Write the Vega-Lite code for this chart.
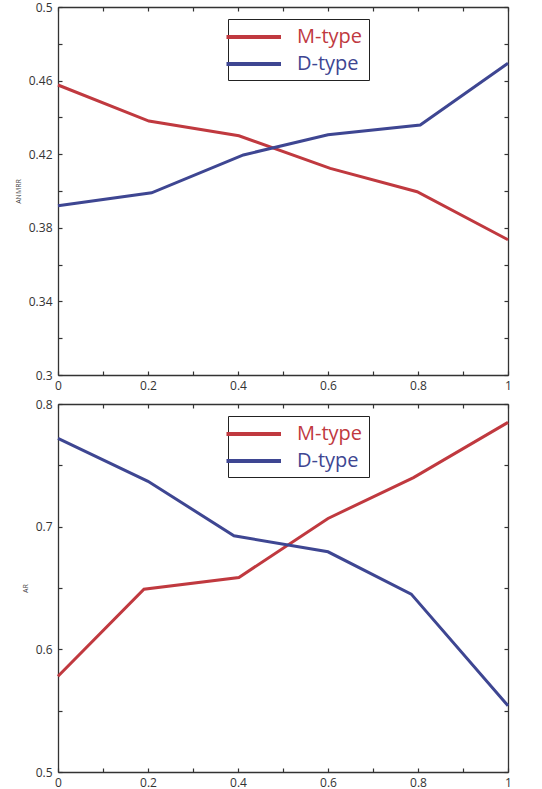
{
  "$schema": "https://vega.github.io/schema/vega-lite/v6.json",
  "padding": {"top": 1, "left": 14, "right": 0, "bottom": 0},
  "background": "white",
  "spacing": 7,
  "config": {
    "view": {"stroke": null},
    "font": "Open Sans",
    "axis": {
      "domainColor": "#333333",
      "domainWidth": 1.3,
      "tickColor": "#333333",
      "tickWidth": 1.2,
      "tickSize": -4,
      "labelColor": "#333333",
      "labelFontSize": 12,
      "labelFont": "Open Sans",
      "grid": false,
      "titleFont": "Open Sans",
      "titleFontWeight": "normal",
      "titleFontSize": 7,
      "titleColor": "#444444"
    },
    "legend": {
      "orient": "none",
      "legendX": 170,
      "legendY": 12,
      "strokeColor": "#222222",
      "padding": 6,
      "symbolType": "M-1.95,0H3.5",
      "symbolSize": 400,
      "symbolStrokeWidth": 4,
      "labelFontSize": 20,
      "labelFont": "Open Sans",
      "labelOffset": 39,
      "labelExpr": "datum.label + '\u00a0\u00a0'",
      "rowPadding": 5,
      "title": null,
      "fillColor": "white"
    }
  },
  "datasets": {
    "anmrr": [
      {"x": 0, "type": "M-type", "value": 0.4576},
      {"x": 0.202, "type": "M-type", "value": 0.438},
      {"x": 0.402, "type": "M-type", "value": 0.430},
      {"x": 0.605, "type": "M-type", "value": 0.4123},
      {"x": 0.798, "type": "M-type", "value": 0.3996},
      {"x": 1, "type": "M-type", "value": 0.3735},
      {"x": 0, "type": "D-type", "value": 0.392},
      {"x": 0.208, "type": "D-type", "value": 0.399},
      {"x": 0.412, "type": "D-type", "value": 0.4196},
      {"x": 0.6, "type": "D-type", "value": 0.4306},
      {"x": 0.805, "type": "D-type", "value": 0.4359},
      {"x": 1, "type": "D-type", "value": 0.4694}
    ],
    "ar": [
      {"x": 0, "type": "M-type", "value": 0.578},
      {"x": 0.191, "type": "M-type", "value": 0.649},
      {"x": 0.402, "type": "M-type", "value": 0.6586},
      {"x": 0.6, "type": "M-type", "value": 0.7067},
      {"x": 0.79, "type": "M-type", "value": 0.740},
      {"x": 1, "type": "M-type", "value": 0.785},
      {"x": 0, "type": "D-type", "value": 0.772},
      {"x": 0.2, "type": "D-type", "value": 0.737},
      {"x": 0.391, "type": "D-type", "value": 0.6926},
      {"x": 0.6, "type": "D-type", "value": 0.6795},
      {"x": 0.785, "type": "D-type", "value": 0.645},
      {"x": 1, "type": "D-type", "value": 0.554}
    ]
  },
  "vconcat": [
    {
      "width": 450,
      "height": 368,
      "data": {"name": "anmrr"},
      "resolve": {"axis": {"x": "independent", "y": "independent"}},
      "layer": [
        {
          "mark": {"type": "line", "strokeWidth": 3},
          "encoding": {
            "x": {"field": "x", "type": "quantitative", "scale": {"domain": [0, 1], "nice": false},
              "axis": {"orient": "bottom", "title": null, "values": [0,0.1,0.2,0.3,0.4,0.5,0.6,0.7,0.8,0.9,1], "format": ".1~f",
                "labelExpr": "indexof(['0','0.2','0.4','0.6','0.8','1'], datum.label) >= 0 ? datum.label : ''", "labelPadding": 9, "labelFlush": false}},
            "y": {"field": "value", "type": "quantitative", "scale": {"domain": [0.3, 0.5], "nice": false, "zero": false},
              "axis": {"orient": "left", "title": "ANMRR", "values": [0.3,0.32,0.34,0.36,0.38,0.4,0.42,0.44,0.46,0.48,0.5], "format": ".2~f",
                "labelExpr": "indexof(['0.3','0.34','0.38','0.42','0.46','0.5'], datum.label) >= 0 ? datum.label : ''", "labelPadding": 10, "titlePadding": 7, "labelFlush": false}},
            "color": {"field": "type", "type": "nominal", "sort": ["M-type", "D-type"],
              "scale": {"domain": ["M-type", "D-type"], "range": ["#c0393f", "#3e4692"]},
              "legend": {"labelColor": {"expr": "datum.value === 'M-type' ? '#c0393f' : '#3e4692'"}}}
          }
        },
        {
          "mark": {"type": "line", "strokeOpacity": 0},
          "encoding": {
            "x": {"field": "x", "type": "quantitative", "scale": {"domain": [0, 1], "nice": false},
              "axis": {"orient": "top", "title": null, "labels": false, "values": [0,0.1,0.2,0.3,0.4,0.5,0.6,0.7,0.8,0.9,1]}},
            "y": {"field": "value", "type": "quantitative", "scale": {"domain": [0.3, 0.5], "nice": false, "zero": false},
              "axis": {"orient": "right", "title": null, "labels": false, "values": [0.3,0.32,0.34,0.36,0.38,0.4,0.42,0.44,0.46,0.48,0.5]}}
          }
        }
      ]
    },
    {
      "width": 450,
      "height": 368,
      "data": {"name": "ar"},
      "resolve": {"axis": {"x": "independent", "y": "independent"}},
      "layer": [
        {
          "mark": {"type": "line", "strokeWidth": 3},
          "encoding": {
            "x": {"field": "x", "type": "quantitative", "scale": {"domain": [0, 1], "nice": false},
              "axis": {"orient": "bottom", "title": null, "values": [0,0.1,0.2,0.3,0.4,0.5,0.6,0.7,0.8,0.9,1], "format": ".1~f",
                "labelExpr": "indexof(['0','0.2','0.4','0.6','0.8','1'], datum.label) >= 0 ? datum.label : ''", "labelPadding": 9, "labelFlush": false}},
            "y": {"field": "value", "type": "quantitative", "scale": {"domain": [0.5, 0.8], "nice": false, "zero": false},
              "axis": {"orient": "left", "title": "AR", "values": [0.5,0.55,0.6,0.65,0.7,0.75,0.8], "format": ".2~f",
                "labelExpr": "indexof(['0.5','0.6','0.7','0.8'], datum.label) >= 0 ? datum.label : ''", "labelPadding": 10, "titlePadding": 7, "labelFlush": false}},
            "color": {"field": "type", "type": "nominal", "sort": ["M-type", "D-type"],
              "scale": {"domain": ["M-type", "D-type"], "range": ["#c0393f", "#3e4692"]},
              "legend": {"labelColor": {"expr": "datum.value === 'M-type' ? '#c0393f' : '#3e4692'"}}}
          }
        },
        {
          "mark": {"type": "line", "strokeOpacity": 0},
          "encoding": {
            "x": {"field": "x", "type": "quantitative", "scale": {"domain": [0, 1], "nice": false},
              "axis": {"orient": "top", "title": null, "labels": false, "values": [0,0.1,0.2,0.3,0.4,0.5,0.6,0.7,0.8,0.9,1]}},
            "y": {"field": "value", "type": "quantitative", "scale": {"domain": [0.5, 0.8], "nice": false, "zero": false},
              "axis": {"orient": "right", "title": null, "labels": false, "values": [0.5,0.55,0.6,0.65,0.7,0.75,0.8]}}
          }
        }
      ]
    }
  ],
  "resolve": {"legend": {"color": "independent"}, "scale": {"color": "independent"}}
}
